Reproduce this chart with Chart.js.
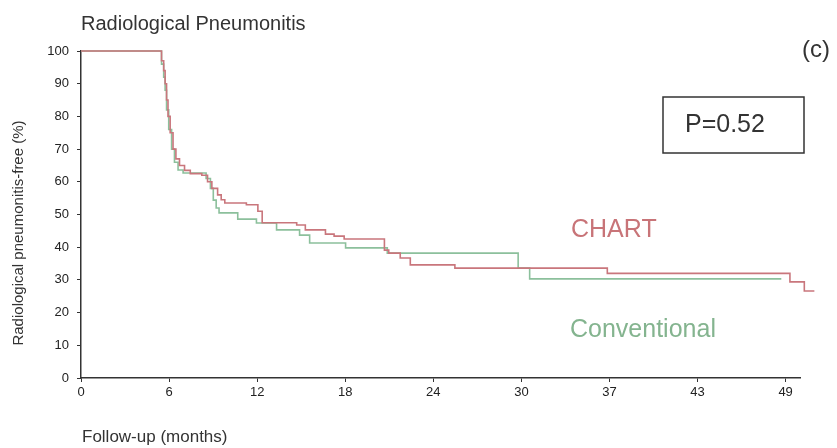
<!DOCTYPE html>
<html>
<head>
<meta charset="utf-8">
<script src="https://cdn.jsdelivr.net/npm/chart.js@4"></script>
<style>
  body { margin: 0; background: #fff; }
  canvas { display: block; }
</style>
</head>
<body>
<canvas id="grafico" width="837" height="448"></canvas>
<script>
// DADOS
const chartTempo = [0, 5.6, 5.75, 5.85, 5.95, 6.05, 6.2, 6.4, 6.6, 6.85, 7.2, 7.6, 8.4, 8.8, 9.1, 9.5, 9.75, 10.0, 11.5, 12.3, 12.6, 15.0, 15.6, 17.0, 17.6, 18.3, 21.1, 21.4, 22.2, 22.9, 26.0, 36.6, 49.3, 50.3, 51.0];
const chartLivre = [100, 97, 94, 90, 85, 80, 75, 70, 67, 65, 63.5, 62.5, 62, 60, 58, 56, 54.5, 53.5, 53, 51, 47.5, 46.8, 45.3, 44, 43.4, 42.5, 39.1, 38.2, 36.7, 34.6, 33.6, 32, 29.4, 26.6, 26.6];

const convTempo = [0, 5.6, 5.75, 5.85, 5.95, 6.1, 6.3, 6.5, 6.75, 7.1, 8.7, 9.0, 9.2, 9.4, 9.6, 10.9, 12.2, 13.6, 15.2, 15.9, 18.4, 21.3, 30.4, 31.2, 48.7];
const convLivre = [100, 96, 92, 88, 82, 76, 70, 66, 63.6, 62.7, 61, 58, 54.4, 52, 50.5, 48.6, 47.4, 45.3, 43.7, 41.3, 39.8, 38.2, 33.6, 30.3, 30.3];

const xTicks = [0, 6.125, 12.25, 18.375, 24.5, 30.625, 36.75, 42.875, 49];
const xLabels = ["0", "6", "12", "18", "24", "30", "37", "43", "49"];
const xMax = 49.8;

const FONTE = "'Liberation Sans', Arial, sans-serif";
const corChart = "#c9767c";
const corConv = "#8cc09c";

function pontos(t, v) {
    return t.map((x, i) => ({ x: x, y: v[i] }));
}

// TEXTOS
const textos = {
    id: "textos",
    afterDraw(chart) {
        const c = chart.ctx;
        c.save();
        c.fillStyle = "#333";
        c.textBaseline = "alphabetic";
        c.textAlign = "left";
        c.font = "20px " + FONTE;
        c.fillText("Radiological Pneumonitis", 81, 30);

        c.textAlign = "center";
        c.textBaseline = "middle";
        c.font = "24px " + FONTE;
        c.fillText("(c)", 816, 50);

        c.strokeStyle = "#333";
        c.lineWidth = 1.5;
        c.strokeRect(663, 97, 141, 56);
        c.textAlign = "left";
        c.font = "25px " + FONTE;
        c.fillText("P=0.52", 685, 125);

        c.textBaseline = "alphabetic";
        c.fillStyle = "#c87478";
        c.fillText("CHART", 571, 237);
        c.fillStyle = "#84b48f";
        c.fillText("Conventional", 570, 337);

        c.fillStyle = "#333";
        c.textBaseline = "middle";
        c.font = "17px " + FONTE;
        c.fillText("Follow-up (months)", 82, 437);

        c.translate(19, 233);
        c.rotate(-Math.PI / 2);
        c.textAlign = "center";
        c.font = "15px " + FONTE;
        c.fillText("Radiological pneumonitis-free (%)", 0, 0);
        c.restore();
    }
};

new Chart(document.getElementById("grafico"), {
    type: "line",
    data: {
        datasets: [
            {
                label: "CHART",
                data: pontos(chartTempo, chartLivre),
                borderColor: corChart,
                borderWidth: 1.6,
                stepped: true,
                pointRadius: 0,
                clip: false
            },
            {
                label: "Conventional",
                data: pontos(convTempo, convLivre),
                borderColor: corConv,
                borderWidth: 1.6,
                stepped: true,
                pointRadius: 0,
                clip: false
            }
        ]
    },
    options: {
        responsive: false,
        animation: false,
        layout: { padding: { left: 0, top: 51, right: 37, bottom: 40 } },
        plugins: {
            legend: { display: false },
            tooltip: { enabled: false }
        },
        scales: {
            x: {
                type: "linear",
                min: 0,
                afterDataLimits: s => { s.max = xMax; },
                afterBuildTicks: s => { s.ticks = xTicks.map(v => ({ value: v })); },
                afterFit: s => { s.height = 30; },
                ticks: {
                    autoSkip: false,
                    maxRotation: 0,
                    padding: 3,
                    color: "#222",
                    font: { family: FONTE, size: 13 },
                    callback: (v, i) => xLabels[i]
                },
                grid: { drawOnChartArea: false, drawTicks: true, tickLength: 4, color: "#333" },
                border: { color: "#333", width: 1.5 }
            },
            y: {
                min: 0,
                max: 100,
                afterFit: s => { s.width = 81; },
                ticks: {
                    stepSize: 10,
                    padding: 8,
                    color: "#222",
                    font: { family: FONTE, size: 13 }
                },
                grid: { drawOnChartArea: false, drawTicks: true, tickLength: 4, color: "#333" },
                border: { color: "#333", width: 1.5 }
            }
        }
    },
    plugins: [textos]
});
</script>
</body>
</html>
